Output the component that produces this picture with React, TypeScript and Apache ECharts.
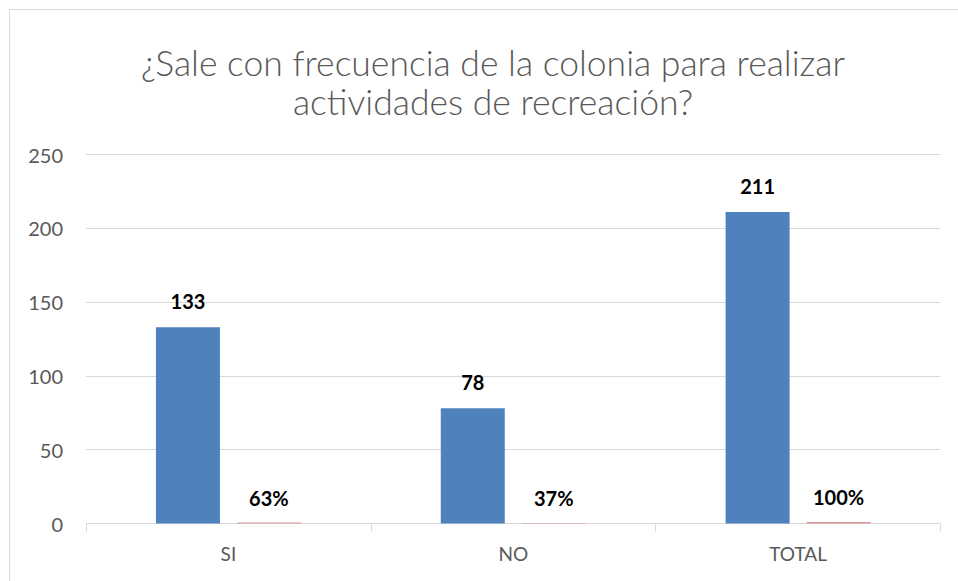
import React, { useEffect, useRef } from "react";
import * as echarts from "echarts";

const titleLines = ["¿Sale con frecuencia de la colonia para realizar", "actividades de recreación?"];
const categories = ["SI", "NO", "TOTAL"];
const countValues = [133, 78, 211];
const pctValues = [0.63, 0.37, 1.0];
const yTicks = { min: 0, max: 250, interval: 50 };

const FONT = "Lato, 'Open Sans', sans-serif";

export default function App() {
  const ref = useRef<HTMLDivElement>(null);
  useEffect(() => {
    if (!ref.current) return;
    const chart = echarts.init(ref.current, undefined, { renderer: "svg" });
    chart.setOption({
      animation: false,
      backgroundColor: "#ffffff",
      title: {
        text: titleLines.join("\n"),
        left: 488,
        textAlign: "center",
        top: 38,
        textStyle: {
          fontFamily: FONT,
          fontSize: 35.5,
          fontWeight: 300,
          color: "#595959",
          lineHeight: 39,
        },
      },
      graphic: [
        {
          type: "rect",
          shape: { x: 9.5, y: 9.5, width: 1200, height: 1200 },
          style: { fill: "none", stroke: "#d9d9d9", lineWidth: 1 },
          silent: true,
          z: 0,
        },
      ],
      grid: { left: 86, right: 17.5, top: 154.5, bottom: 57.5, containLabel: false },
      xAxis: {
        type: "category",
        data: categories,
        axisLine: { show: true, lineStyle: { color: "#d9d9d9", width: 1 } },
        axisTick: { show: true, length: 8, lineStyle: { color: "#d9d9d9" } },
        axisLabel: {
          fontFamily: FONT,
          fontSize: 19,
          color: "#595959",
          margin: 20,
        },
      },
      yAxis: {
        type: "value",
        min: yTicks.min,
        max: yTicks.max,
        interval: yTicks.interval,
        axisLine: { show: false },
        axisTick: { show: false },
        splitLine: { lineStyle: { color: "#d9d9d9", width: 1 } },
        axisLabel: {
          fontFamily: FONT,
          fontSize: 20,
          color: "#595959",
          margin: 23,
        },
      },
      series: [
        {
          type: "bar",
          data: countValues,
          barWidth: 64,
          barGap: "26.5%",
          itemStyle: { color: "#4F81BD" },
          label: {
            show: true,
            position: "top",
            distance: 16,
            fontFamily: FONT,
            fontSize: 20,
            fontWeight: "bold",
            color: "#000000",
          },
        },
        {
          type: "bar",
          data: pctValues,
          barWidth: 64,
          barGap: "26.5%",
          itemStyle: { color: "#D99694" },
          label: {
            show: true,
            position: "top",
            distance: 15,
            fontFamily: FONT,
            fontSize: 20,
            fontWeight: "bold",
            color: "#000000",
            formatter: (p: any) => Math.round(p.value * 100) + "%",
          },
        },
      ],
    });
    return () => chart.dispose();
  }, []);
  return (
    <div
      ref={ref}
      style={{ position: "absolute", left: 0, top: 0, width: 958, height: 581 }}
    />
  );
}
